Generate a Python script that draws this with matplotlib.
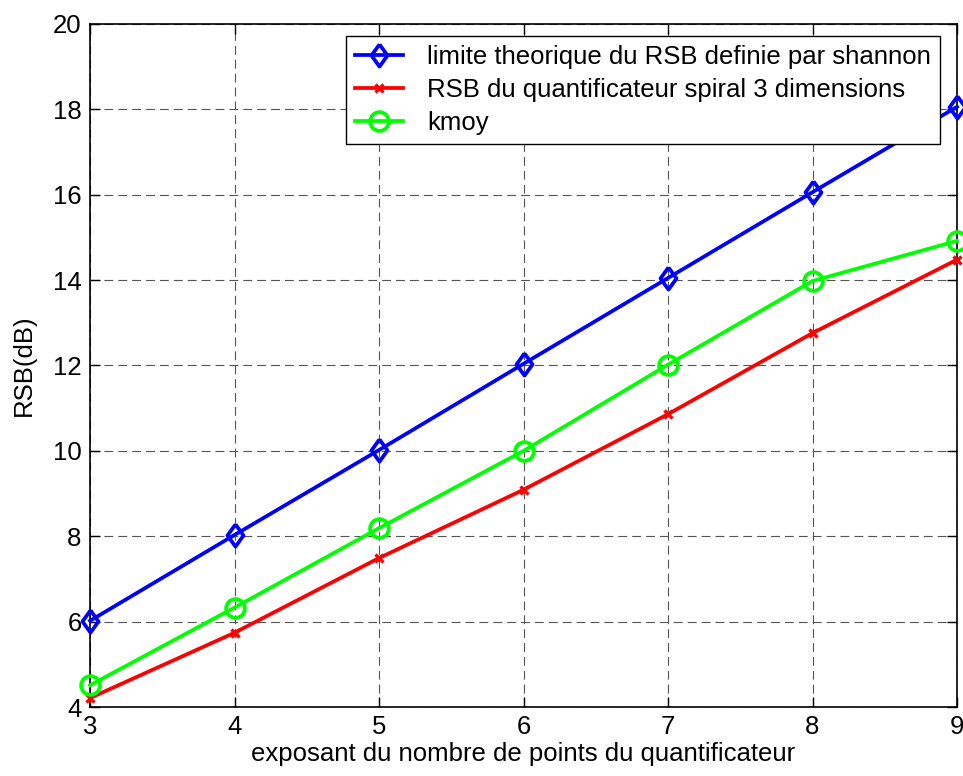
import matplotlib
matplotlib.use("Agg")
import matplotlib.pyplot as plt

plt.rcParams['font.family'] = ['Liberation Sans', 'DejaVu Sans']

exposants = [3, 4, 5, 6, 7, 8, 9]
rsb_shannon = [6.02, 8.03, 10.02, 12.04, 14.05, 16.06, 18.06]
rsb_spiral = [4.21, 5.74, 7.49, 9.09, 10.86, 12.76, 14.48]
rsb_kmoy = [4.51, 6.33, 8.19, 10.0, 12.02, 13.98, 14.92]

labels = ["limite theorique du RSB definie par shannon",
          "RSB du quantificateur spiral 3 dimensions",
          "kmoy"]
xticks = [3, 4, 5, 6, 7, 8, 9]
yticks = [4, 6, 8, 10, 12, 14, 16, 18, 20]

# slightly narrow diamond
diamond = [(0, 1), (0.72, 0), (0, -1), (-0.72, 0), (0, 1)]

fs = 18.5
fig = plt.figure(figsize=(9.63, 7.76), dpi=100)
ax = fig.add_axes([0.0935, 0.0889, 0.9003, 0.8802])

lw = 2.7
ax.plot(exposants, rsb_shannon, color='#0000ff', lw=lw, marker=diamond,
        markersize=16, markerfacecolor='none', markeredgewidth=lw,
        label=labels[0], clip_on=False, zorder=3)
ax.plot(exposants, rsb_spiral, color='#ff0000', lw=lw, marker='x',
        markersize=5.5, markeredgewidth=2.4,
        label=labels[1], clip_on=False, zorder=3)
ax.plot(exposants, rsb_kmoy, color='#00ff00', lw=lw, marker='o',
        markersize=13.5, markerfacecolor='none', markeredgewidth=lw,
        label=labels[2], clip_on=False, zorder=3)

ax.set_xlim(3, 9)
ax.set_ylim(4, 20)
ax.set_xticks(xticks)
ax.set_yticks(yticks)
ax.tick_params(direction='in', labelsize=fs, length=7, width=1,
               top=True, right=True, pad=6)
ax.grid(True, color='#555555', linestyle=(0, (8, 4.5)), linewidth=0.8)
for s in ax.spines.values():
    s.set_linewidth(1.2)

ax.set_xlabel("exposant du nombre de points du quantificateur", fontsize=fs, labelpad=2)
ax.set_ylabel("RSB(dB)", fontsize=fs, labelpad=12)

leg = ax.legend(loc='upper right', bbox_to_anchor=(0.980, 0.9824), fontsize=fs,
                fancybox=False, framealpha=1, edgecolor='black',
                handlelength=1.85, borderpad=0.34, labelspacing=0.355,
                handletextpad=0.95, borderaxespad=0.0)
leg.get_frame().set_linewidth(1.0)

fig.savefig("out.png", dpi=100)
